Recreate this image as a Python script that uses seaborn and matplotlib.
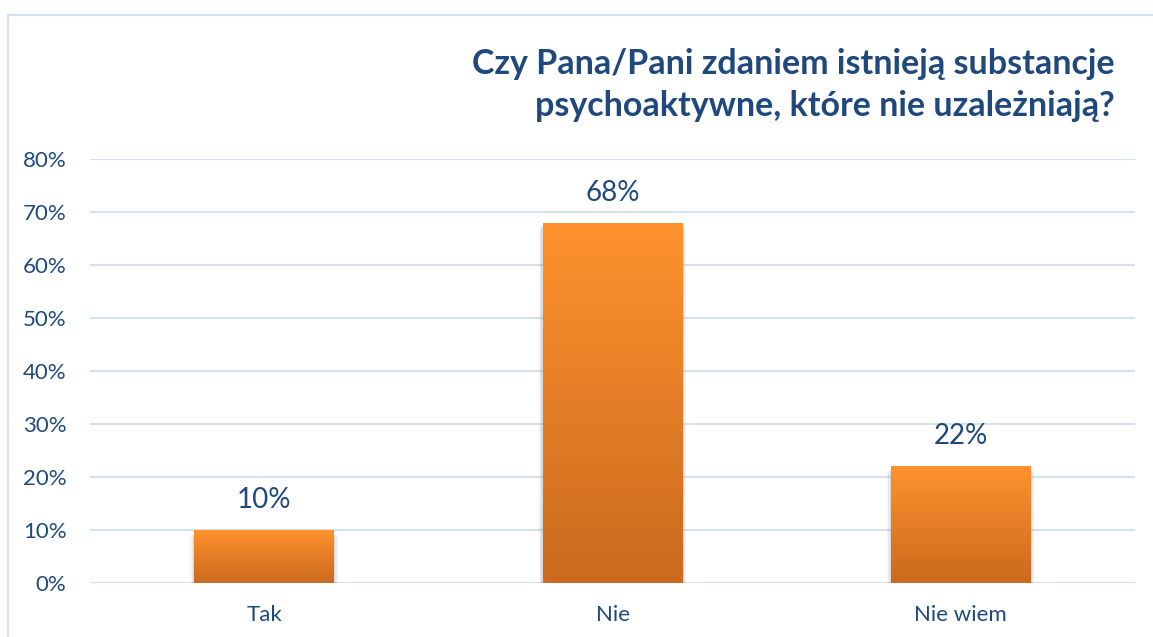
import numpy as np
import pandas as pd
import seaborn as sns
import matplotlib.pyplot as plt
from matplotlib.patches import Rectangle
from matplotlib.colors import LinearSegmentedColormap
from matplotlib.ticker import PercentFormatter

categories = ["Tak", "Nie", "Nie wiem"]
values = [10, 68, 22]
yticks = [0, 10, 20, 30, 40, 50, 60, 70, 80]
title = "Czy Pana/Pani zdaniem istnieją substancje\npsychoaktywne, które nie uzależniają?"

TXT = "#1F497D"
GRID = "#D6E1F0"

sns.set_theme(style="white")
plt.rcParams["font.family"] = ["Lato", "DejaVu Sans"]

fig = plt.figure(figsize=(11.53, 6.37), dpi=100)
ax = fig.add_axes([90 / 1153, 1 - 583 / 637, 1045 / 1153, 424 / 637])

df = pd.DataFrame({"cat": categories, "val": values})
sns.barplot(data=df, x="cat", y="val", color="#F28B2C", width=0.4, ax=ax, zorder=3)

ax.set_ylim(0, 80)
ax.set_yticks(yticks)
ax.yaxis.set_major_formatter(PercentFormatter(decimals=0))
ax.grid(axis="y", color=GRID, lw=1.5, zorder=0)
for s in ax.spines.values():
    s.set_visible(False)
ax.set_xlabel("")
ax.set_ylabel("")
ax.tick_params(axis="y", colors=TXT, labelsize=16, pad=17, length=0)
ax.tick_params(axis="x", colors=TXT, labelsize=16, pad=16, length=0)

# gradient fill + soft shadow for each bar
grad = np.linspace(0, 1, 256).reshape(-1, 1)
cmap = LinearSegmentedColormap.from_list("og", ["#CB6A1E", "#E47E26", "#FF922E"])
for bar in ax.patches:
    x0, w, h = bar.get_x(), bar.get_width(), bar.get_height()
    bar.set_facecolor("none")
    bar.set_edgecolor("none")
    for k, a in enumerate([0.10, 0.08, 0.05]):
        ax.add_patch(Rectangle((x0 - 0.004 * (k + 1), -0.6 - 0.3 * k), w + 0.008 * (k + 1), h,
                               color="#555555", alpha=a, lw=0, zorder=2))
    im = ax.imshow(grad, cmap=cmap, aspect="auto", extent=[x0, x0 + w, 0, h],
                   origin="lower", zorder=3)
    im.set_clip_path(bar)
    ax.text(x0 + w / 2, h + 3.2, f"{h:.0f}%", ha="center", va="bottom",
            fontsize=20, color=TXT, zorder=4)
ax.set_xlim(-0.5, 2.5)
ax.set_ylim(0, 80)

fig.text(1115 / 1153, 1 - 85 / 637, title, ha="right", va="center", fontsize=24.5,
         fontweight="bold", color=TXT, linespacing=1.35)

# chart frame
fig.add_artist(Rectangle((8 / 1153, -0.05), 1.2, 1 - 15 / 637 + 0.05, transform=fig.transFigure,
                         fill=False, edgecolor="#D6E1F0", lw=1.5))

fig.savefig("out.png", dpi=100)
